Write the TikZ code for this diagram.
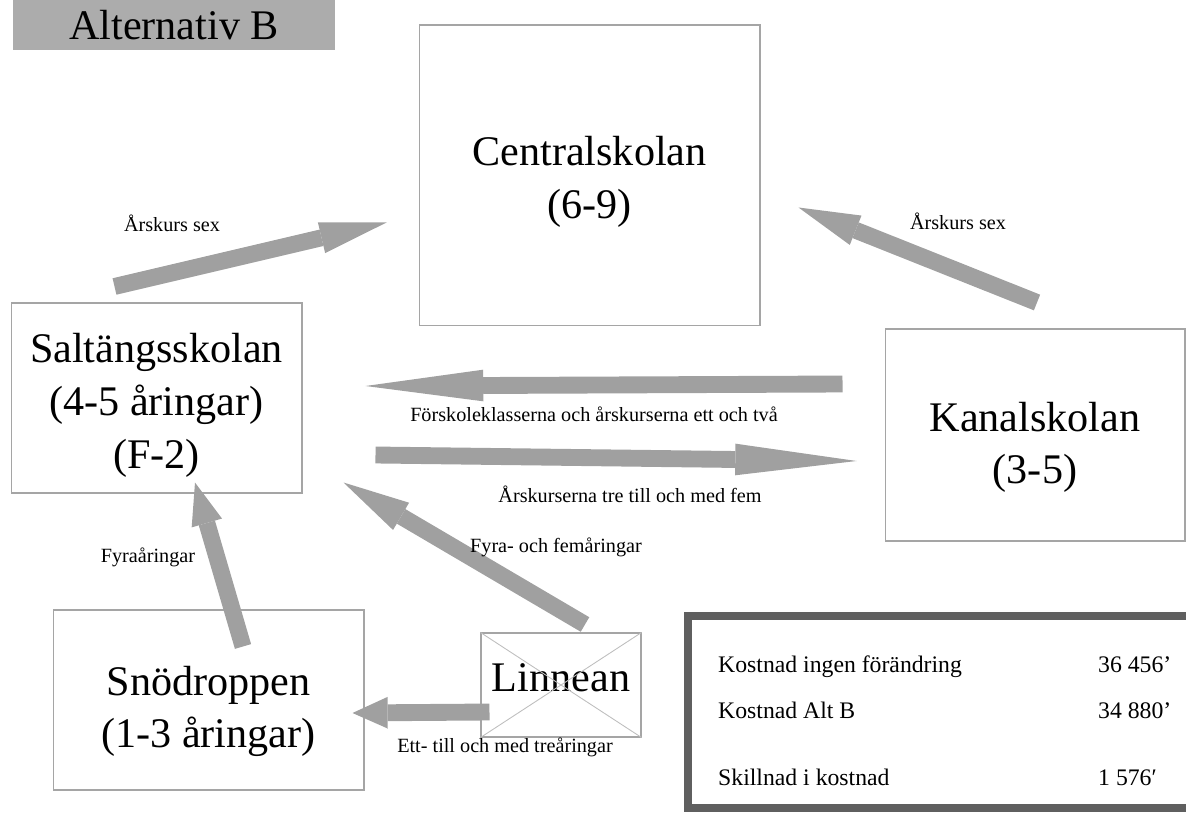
\documentclass[tikz,border=0pt]{standalone}
\usepackage{fontspec}
\setmainfont{Liberation Serif}
\definecolor{arrowgray}{RGB}{160,160,160}
\definecolor{titlegray}{RGB}{172,172,172}
\definecolor{boxgray}{RGB}{165,165,165}
\definecolor{costgray}{RGB}{95,95,95}
\definecolor{crossgray}{RGB}{190,190,190}
\usetikzlibrary{arrows.meta}
\tikzstyle{school}=[draw=boxgray, line width=0.6pt, inner sep=0pt]
\tikzstyle{big}=[align=center, font=\fontsize{24}{30}\selectfont]
\tikzstyle{note}=[font=\fontsize{11.5}{14}\selectfont, anchor=base]
\tikzstyle{cost}=[font=\fontsize{13.5}{16}\selectfont, anchor=base west]
\tikzset{flow/.style={draw=arrowgray, line width=9.6pt, -{Triangle[length=#1, width=18pt, line width=0pt]}}}

\begin{document}
\begin{tikzpicture}[x=0.02cm, y=-0.02cm]

    \node[fill=titlegray, minimum width=6.44cm, minimum height=1cm, font=\fontsize{24}{30}\selectfont] (title) at (174,25) {Alternativ B};

    % schools
    \node[school, minimum width=6.82cm, minimum height=6.02cm, label={[big, yshift=-0.13cm]center:Centralskolan\\(6-9)}] (central) at (589.5,175.5) {};
    \node[school, minimum width=5.82cm, minimum height=3.8cm, label={[big, yshift=-0.15cm]center:Saltängsskolan\\(4-5 åringar)\\(F-2)}] (salt) at (156.5,398) {};
    \node[school, minimum width=6cm, minimum height=4.24cm, label={[big, yshift=-0.25cm]center:Kanalskolan\\(3-5)}] (kanal) at (1035,435) {};
    \node[school, minimum width=6.22cm, minimum height=3.6cm, label={[big, yshift=-0.23cm]center:Snödroppen\\(1-3 åringar)}] (snow) at (208.5,700) {};
    \node[school, minimum width=3.2cm, minimum height=2.08cm, label={[big, yshift=0.15cm]center:Linnean}] (linnean) at (561,685) {};
    \draw[crossgray, line width=0.5pt] (linnean.north west) -- (linnean.south east);
    \draw[crossgray, line width=0.5pt] (linnean.south west) -- (linnean.north east);

    % costs
    \node[draw=costgray, line width=5pt, minimum width=10.24cm, minimum height=3.84cm] (costbox) at (944,712) {};
    \node[cost] (k1) at (712,672) {Kostnad ingen förändring};
    \node[cost] (v1) at (1092,672) {36 456’};
    \node[cost] (k2) at (712,718) {Kostnad Alt B};
    \node[cost] (v2) at (1092,718) {34 880’};
    \node[cost] (k3) at (712,785) {Skillnad i kostnad};
    \node[cost] (v3) at (1092,785) {1 576′};

    % moves
    \path[flow=38pt] ([shift={(104,-16)}]salt.north west) -- ([shift={(-32,47)}]central.west);
    \path[flow=35pt] ([shift={(2,-26)}]kanal.north) -- ([shift={(38,32)}]central.east);
    \path[flow=67pt] ([shift={(-42,-51)}]kanal.west) -- ([shift={(63,-12)}]salt.east);
    \path[flow=69pt] ([shift={(73,57)}]salt.east) -- ([shift={(-28,26)}]kanal.west);
    \path[flow=38pt] ([shift={(24,-8)}]linnean.north) -- ([shift={(41,-11)}]salt.south east);
    \path[flow=24pt] ([shift={(34.5,37)}]snow.north) -- ([shift={(38.5,-11)}]salt.south);
    \path[flow=20pt] ([shift={(9,27)}]linnean.west) -- ([shift={(-12,13)}]snow.east);

    \node[note] (sex1) at (172,232) {Årskurs sex};
    \node[note] (sex2) at (958,230) {Årskurs sex};
    \node[note] (fklass) at (594,422) {Förskoleklasserna och årskurserna ett och två};
    \node[note] (trefem) at (630,503) {Årskurserna tre till och med fem};
    \node[note] (fyrafem) at (556,553) {Fyra- och femåringar};
    \node[note] (fyra) at (148,562) {Fyraåringar};
    \node[note] (ettre) at (505,752) {Ett- till och med treåringar};

    \pgfresetboundingbox
    \path[use as bounding box] (0,0) rectangle (1186,813);
\end{tikzpicture}
\end{document}
